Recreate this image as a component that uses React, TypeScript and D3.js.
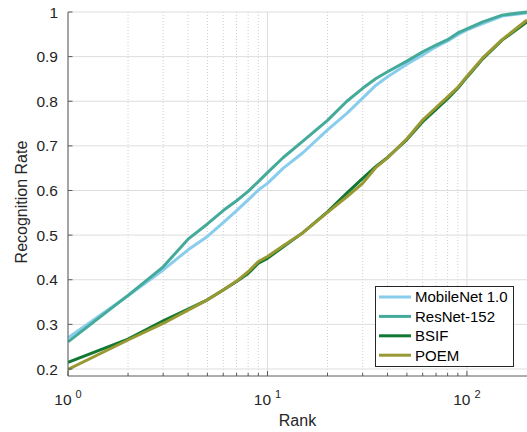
import React, { useEffect, useRef } from 'react';
import * as d3 from 'd3';

const ranks = [1, 2, 3, 4, 5, 6, 7, 8, 9, 10, 12, 15, 20, 25, 30, 35, 40, 50, 60, 70, 80, 90, 100, 120, 150, 200];

const mobileNet = [0.270, 0.364, 0.422, 0.467, 0.497, 0.528, 0.555, 0.579, 0.601, 0.616, 0.650, 0.684, 0.736, 0.773, 0.807, 0.836, 0.855, 0.883, 0.904, 0.922, 0.935, 0.949, 0.960, 0.974, 0.991, 0.998];
const resNet = [0.261, 0.365, 0.429, 0.491, 0.525, 0.555, 0.577, 0.598, 0.620, 0.640, 0.674, 0.710, 0.757, 0.800, 0.829, 0.851, 0.866, 0.890, 0.911, 0.926, 0.938, 0.953, 0.962, 0.978, 0.993, 1.0];
const bsif = [0.215, 0.267, 0.308, 0.334, 0.355, 0.377, 0.396, 0.414, 0.437, 0.448, 0.474, 0.505, 0.552, 0.594, 0.627, 0.654, 0.674, 0.714, 0.754, 0.782, 0.806, 0.829, 0.854, 0.895, 0.937, 0.978];
const poem = [0.199, 0.265, 0.302, 0.332, 0.355, 0.377, 0.397, 0.418, 0.441, 0.452, 0.476, 0.505, 0.551, 0.586, 0.616, 0.652, 0.673, 0.716, 0.758, 0.786, 0.810, 0.831, 0.856, 0.897, 0.938, 0.982];

const seriesNames = ['MobileNet 1.0', 'ResNet-152', 'BSIF', 'POEM'];
const seriesColors = ['#88ccee', '#44aa99', '#117733', '#999933'];

const yTicks = [0.2, 0.3, 0.4, 0.5, 0.6, 0.7, 0.8, 0.9, 1];
const xDecades = [1, 10, 100];
const xExponents = ['0', '1', '2'];

const W = 527;
const H = 432;
const FONT = '"Liberation Sans", Arial, Helvetica, sans-serif';

export default function App() {
    const ref = useRef<SVGSVGElement>(null);

    useEffect(() => {
        const svg = d3.select(ref.current);
        svg.selectAll('*').remove();

        const left = 68, right = 527, top = 12, bottom = 376;

        const x = d3.scaleLog().domain([1, 200]).range([left, right]);
        const y = d3.scaleLinear().domain([0.1843, 1]).range([bottom, top]);

        // minor ticks 2..9, 20..90
        const minor: number[] = [];
        [1, 10, 100].forEach((d) => {
            for (let k = 2; k <= 9; k++) if (d * k < 200) minor.push(d * k);
        });

        svg.append('rect').attr('width', W).attr('height', H).attr('fill', '#fff');

        const grid = svg.append('g');
        grid.selectAll('.minor')
            .data(minor)
            .enter()
            .append('line')
            .attr('x1', (d) => x(d)).attr('x2', (d) => x(d))
            .attr('y1', top).attr('y2', bottom)
            .attr('stroke', '#cfcfcf')
            .attr('stroke-width', 1)
            .attr('stroke-dasharray', '1,2');
        grid.selectAll('.xmajor')
            .data(xDecades)
            .enter()
            .append('line')
            .attr('x1', (d) => x(d)).attr('x2', (d) => x(d))
            .attr('y1', top).attr('y2', bottom)
            .attr('stroke', '#dedede')
            .attr('stroke-width', 1);
        grid.selectAll('.ymajor')
            .data(yTicks)
            .enter()
            .append('line')
            .attr('x1', left).attr('x2', right)
            .attr('y1', (d) => y(d)).attr('y2', (d) => y(d))
            .attr('stroke', '#dedede')
            .attr('stroke-width', 1);

        svg.append('clipPath').attr('id', 'plot-clip')
            .append('rect')
            .attr('x', left).attr('y', top - 3)
            .attr('width', right - left).attr('height', bottom - top + 3);

        const line = d3.line<number>()
            .x((_, i) => x(ranks[i]))
            .y((d) => y(d));

        [mobileNet, resNet, bsif, poem].forEach((vals, i) => {
            svg.append('path')
                .datum(vals)
                .attr('d', line)
                .attr('fill', 'none')
                .attr('stroke', seriesColors[i])
                .attr('stroke-width', 3)
                .attr('stroke-linejoin', 'round')
                .attr('clip-path', 'url(#plot-clip)');
        });

        // axes
        const axisColor = '#5a5a5a';
        svg.append('line')
            .attr('x1', left).attr('x2', left)
            .attr('y1', top).attr('y2', bottom)
            .attr('stroke', axisColor).attr('stroke-width', 1);
        svg.append('line')
            .attr('x1', left).attr('x2', right)
            .attr('y1', bottom).attr('y2', bottom)
            .attr('stroke', axisColor).attr('stroke-width', 1);

        svg.selectAll('.ytick')
            .data(yTicks)
            .enter()
            .append('line')
            .attr('x1', left).attr('x2', left + 4.5)
            .attr('y1', (d) => y(d)).attr('y2', (d) => y(d))
            .attr('stroke', axisColor);
        svg.selectAll('.ylabel')
            .data(yTicks)
            .enter()
            .append('text')
            .attr('x', left - 10)
            .attr('y', (d) => y(d))
            .attr('dy', '0.36em')
            .attr('text-anchor', 'end')
            .attr('font-family', FONT)
            .attr('font-size', 15.5)
            .attr('fill', '#262626')
            .text((d) => d3.format('~g')(d));

        svg.selectAll('.xminortick')
            .data(minor)
            .enter()
            .append('line')
            .attr('x1', (d) => x(d)).attr('x2', (d) => x(d))
            .attr('y1', bottom).attr('y2', bottom - 3)
            .attr('stroke', axisColor);
        svg.selectAll('.xtick')
            .data(xDecades)
            .enter()
            .append('line')
            .attr('x1', (d) => x(d)).attr('x2', (d) => x(d))
            .attr('y1', bottom).attr('y2', bottom - 5)
            .attr('stroke', axisColor);

        const xl = svg.selectAll('.xlabel')
            .data(xDecades)
            .enter()
            .append('text')
            .attr('x', (d) => x(d))
            .attr('y', 405)
            .attr('text-anchor', 'middle')
            .attr('font-family', FONT)
            .attr('font-size', 15.5)
            .attr('fill', '#262626');
        xl.append('tspan').text('10');
        xl.append('tspan')
            .attr('dx', 4)
            .attr('dy', -7)
            .attr('font-size', 11)
            .text((_, i) => xExponents[i]);

        svg.append('text')
            .attr('x', (left + right) / 2)
            .attr('y', 426)
            .attr('text-anchor', 'middle')
            .attr('font-family', FONT)
            .attr('font-size', 16)
            .attr('fill', '#262626')
            .text('Rank');

        svg.append('text')
            .attr('transform', 'translate(27,202) rotate(-90)')
            .attr('text-anchor', 'middle')
            .attr('font-family', FONT)
            .attr('font-size', 16)
            .attr('fill', '#262626')
            .text('Recognition Rate');

        // legend
        const lg = svg.append('g');
        lg.append('rect')
            .attr('x', 375.5).attr('y', 286.5)
            .attr('width', 138).attr('height', 80)
            .attr('fill', '#fff')
            .attr('stroke', '#262626')
            .attr('stroke-width', 1);
        seriesNames.forEach((name, i) => {
            const ly = 297 + i * 19.4;
            lg.append('line')
                .attr('x1', 379).attr('x2', 411)
                .attr('y1', ly).attr('y2', ly)
                .attr('stroke', seriesColors[i])
                .attr('stroke-width', 3);
            lg.append('text')
                .attr('x', 415)
                .attr('y', ly)
                .attr('dy', '0.36em')
                .attr('font-family', FONT)
                .attr('font-size', 15)
                .attr('fill', '#000')
                .text(name);
        });
    }, []);

    return (
        <svg
            ref={ref}
            width={W}
            height={H}
            style={{ position: 'absolute', left: 0, top: 0, display: 'block' }}
        />
    );
}
